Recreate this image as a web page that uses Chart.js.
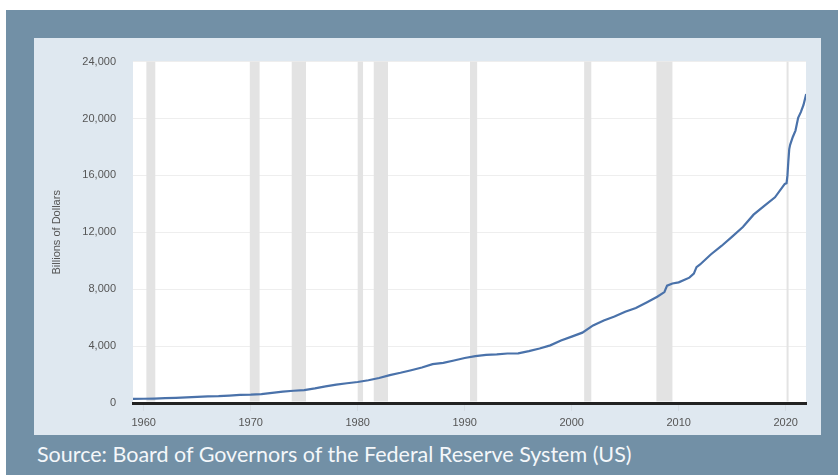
<!DOCTYPE html>
<html>
<head>
<meta charset="utf-8">
<script src="https://cdn.jsdelivr.net/npm/chart.js@4.4.1/dist/chart.umd.min.js"></script>
<style>
  html, body { margin: 0; padding: 0; background: #fff; }
  #frame {
    position: absolute; left: 6px; top: 10px; width: 832px; height: 465px;
    background: #7290a6;
  }
  #panel {
    position: absolute; left: 34px; top: 38px; width: 787px; height: 397px;
    background: #dfe8f0;
  }
  #source {
    position: absolute; left: 37px; top: 441px;
    font-family: Lato, "Open Sans", sans-serif; font-size: 21.5px;
    color: #f4f7fa; white-space: nowrap;
  }
</style>
</head>
<body>
<div id="frame"></div>
<div id="panel"><canvas id="m2Chart"></canvas></div>
<div id="source">Source: Board of Governors of the Federal Reserve System (US)</div>
<script>
// M2 money stock, billions of dollars
const dates = [
  '1959-01', '1960-01', '1961-01', '1962-01', '1963-01', '1964-01', '1965-01', '1966-01',
  '1967-01', '1968-01', '1969-01', '1970-01', '1971-01', '1972-01', '1973-01', '1974-01',
  '1975-01', '1976-01', '1977-01', '1978-01', '1979-01', '1980-01', '1981-01', '1982-01',
  '1983-01', '1984-01', '1985-01', '1986-01', '1987-01', '1988-01', '1989-01', '1990-01',
  '1991-01', '1992-01', '1993-01', '1994-01', '1995-01', '1996-01', '1997-01', '1998-01',
  '1999-01', '2000-01', '2001-01', '2002-01', '2003-01', '2004-01', '2005-01', '2006-01',
  '2007-01', '2008-01', '2008-09', '2008-12', '2009-06', '2010-01', '2011-01', '2011-06',
  '2011-09', '2012-01', '2013-01', '2014-01', '2015-01', '2016-01', '2017-01', '2018-01',
  '2019-01', '2019-12', '2020-02', '2020-03', '2020-04', '2020-05', '2020-06', '2020-09',
  '2020-12', '2021-03', '2021-06', '2021-09', '2021-12'
];
const m2Values = [
  287, 298, 312, 336, 362, 393, 425, 459,
  480, 525, 567, 588, 628, 713, 805, 861,
  909, 1023, 1164, 1287, 1389, 1474, 1600, 1756,
  1960, 2124, 2306, 2492, 2728, 2826, 2988, 3166,
  3292, 3380, 3414, 3480, 3495, 3649, 3830, 4053,
  4401, 4667, 4946, 5456, 5806, 6074, 6419, 6681,
  7071, 7470, 7800, 8250, 8400, 8480, 8810, 9100,
  9550, 9740, 10440, 11040, 11700, 12370, 13240, 13860,
  14460, 15400, 15450, 16000, 17000, 17850, 18150, 18700,
  19150, 20050, 20450, 20950, 21720
];

// NBER recessions (shaded)
const recessionStarts = ['1960-04', '1969-12', '1973-11', '1980-01', '1981-07', '1990-07', '2001-03', '2007-12', '2020-02'];
const recessionEnds   = ['1961-02', '1970-11', '1975-03', '1980-07', '1982-11', '1991-03', '2001-11', '2009-06', '2020-04'];

const xTickYears = [1960, 1970, 1980, 1990, 2000, 2010, 2020];
const yTicks = [0, 4000, 8000, 12000, 16000, 20000, 24000];

function toYear(s) {
  const [y, m] = s.split('-').map(Number);
  return y + (m - 1) / 12;
}

const points = dates.map((d, i) => ({ x: toYear(d), y: m2Values[i] }));

// white plot background + gray recession bars
const shadingPlugin = {
  id: 'shading',
  beforeDraw(chart) {
    const { ctx, chartArea: a } = chart;
    ctx.save();
    ctx.fillStyle = '#ffffff';
    ctx.fillRect(a.left, a.top, a.right - a.left, a.bottom - a.top);
    ctx.restore();
  },
  beforeDatasetsDraw(chart) {
    const { ctx, chartArea: a, scales: { x } } = chart;
    ctx.save();
    ctx.fillStyle = '#e3e3e3';
    recessionStarts.forEach((s, i) => {
      const x0 = x.getPixelForValue(toYear(s));
      const x1 = x.getPixelForValue(toYear(recessionEnds[i]));
      ctx.fillRect(x0, a.top, Math.max(x1 - x0, 2), a.bottom - a.top - 1.5);
    });
    ctx.restore();
  }
};

const ctx = document.getElementById('m2Chart').getContext('2d');
const m2Chart = new Chart(ctx, {
  type: 'line',
  data: {
    datasets: [{
      label: 'M2',
      data: points,
      borderColor: '#4a72aa',
      borderWidth: 2.2,
      pointRadius: 0,
      tension: 0,
      fill: false
    }]
  },
  options: {
    responsive: true,
    maintainAspectRatio: false,
    animation: false,
    locale: 'en-US',
    layout: { padding: { left: 0, top: 15, right: 15, bottom: 0 } },
    plugins: {
      legend: { display: false },
      tooltip: { enabled: false }
    },
    scales: {
      x: {
        type: 'linear',
        min: 1959,
        max: 2021.9,
        afterBuildTicks: scale => { scale.ticks = xTickYears.map(v => ({ value: v })); },
        afterFit: scale => { scale.height = 32; },
        border: { color: '#222222', width: 3 },
        grid: { drawOnChartArea: false, color: '#d6dde4', tickLength: 8 },
        ticks: {
          padding: 5,
          color: '#555555',
          font: { family: 'Arial, "Liberation Sans"', size: 11 },
          callback: v => String(v),
          maxRotation: 0
        }
      },
      y: {
        min: 0,
        max: 24000,
        afterBuildTicks: scale => { scale.ticks = yTicks.map(v => ({ value: v })); },
        afterFit: scale => { scale.width = 99; },
        border: { display: false },
        grid: { color: '#eeeeee', drawTicks: false },
        ticks: {
          padding: 17,
          color: '#555555',
          font: { family: 'Arial, "Liberation Sans"', size: 11 }
        },
        title: {
          display: true,
          text: 'Billions of Dollars',
          color: '#555555',
          font: { family: 'Arial, "Liberation Sans"', size: 11 },
          padding: { top: 16, bottom: 0 }
        }
      }
    }
  },
  plugins: [shadingPlugin]
});
</script>
</body>
</html>
